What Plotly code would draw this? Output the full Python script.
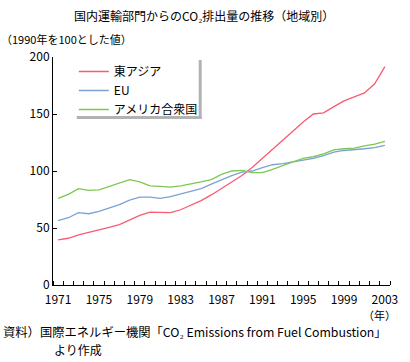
import plotly.graph_objects as go

years = list(range(1971, 2004))
east_asia = [39.5, 41, 44, 46, 48, 50.5, 53, 57, 61, 64, 63.5, 63.5, 66, 70, 74, 79, 84.5, 90, 96, 103,
             111, 119, 127, 135, 143, 150, 151, 156.5, 161.5, 165, 168.5, 176.5, 191.5]
eu = [56.5, 59, 63.5, 62.5, 64.5, 67.5, 70.5, 74.5, 77, 77, 76, 77.5, 80, 82, 84.5, 88.5, 92.5, 96, 99, 100,
      103, 105.5, 106.5, 108, 109.5, 111, 113.5, 116.5, 118, 118.5, 119.5, 120.5, 122.5]
usa = [76, 79.5, 84.5, 83, 83.5, 86.5, 89.5, 92.5, 90.5, 87, 86.5, 85.8, 87, 88.5, 90.5, 92.5, 97, 100, 100.5, 98.5,
       98.5, 101.5, 105, 108, 111, 112.5, 115, 118.5, 119.5, 120, 122, 123.5, 126]

series_names = ["東アジア", "EU", "アメリカ合衆国"]
series_values = [east_asia, eu, usa]
colors = ["#FA5A74", "#7BA2D3", "#7CC850"]

x_tick_labels = [str(y) for y in range(1971, 2004, 4)]
y_ticks = [0, 50, 100, 150, 200]

title_text = "国内運輸部門からのCO₂排出量の推移（地域別）"
unit_text = "（1990年を100とした値）"
year_text = "（年）"
note1 = "資料）国際エネルギー機関「CO₂ Emissions from Fuel Combustion」"
note2 = "より作成"

FONT = "Noto Sans CJK JP"

fig = go.Figure()
for name, vals, c in zip(series_names, series_values, colors):
    fig.add_trace(go.Scatter(x=years, y=vals, name=name, mode="lines",
                             line=dict(color=c, width=1.3)))

W, H = 410, 362
L, R, T, B = 53, 17, 57, 77
pw, ph = W - L - R, H - T - B

def px2x(p):
    return (p - L) / pw

def py2y(p):
    return (H - B - p) / ph

fig.update_layout(
    width=W, height=H,
    margin=dict(l=L, r=R, t=T, b=B),
    paper_bgcolor="white", plot_bgcolor="white",
    font=dict(family=FONT, size=12, color="black"),
    showlegend=True,
    legend=dict(x=px2x(74), y=py2y(57), xanchor="left", yanchor="top",
                bgcolor="rgba(0,0,0,0)", borderwidth=0, font=dict(size=12),
                tracegroupgap=0),
    xaxis=dict(range=[1970.5, 2003.5], tickmode="array",
               tickvals=[int(t) for t in x_tick_labels], ticktext=x_tick_labels,
               ticks="", showgrid=False, zeroline=False,
               showline=True, linecolor="black", linewidth=1,
               ticklabelstandoff=4,
               minor=dict(tickmode="linear", tick0=1970.5, dtick=1, ticks="inside",
                          ticklen=4, tickcolor="black", tickwidth=1, showgrid=False),
               tickfont=dict(size=12)),
    yaxis=dict(range=[0, 200], tickmode="array", tickvals=y_ticks,
               ticks="inside", ticklen=4, tickcolor="black",
               showgrid=False, zeroline=False,
               showline=True, linecolor="black", linewidth=1,
               tickfont=dict(size=12)),
)

shadow = "#B2B2B2"
fig.add_shape(type="rect", xref="paper", yref="paper",
              x0=px2x(200), x1=px2x(203), y0=py2y(119), y1=py2y(60),
              fillcolor=shadow, line=dict(width=0), layer="above")
fig.add_shape(type="rect", xref="paper", yref="paper",
              x0=px2x(77), x1=px2x(203), y0=py2y(119), y1=py2y(116),
              fillcolor=shadow, line=dict(width=0), layer="above")

def ann(text, xp, yp, xanchor="left", size=12):
    fig.add_annotation(text=text, xref="paper", yref="paper",
                       x=px2x(xp), y=py2y(yp), xanchor=xanchor, yanchor="middle",
                       showarrow=False, font=dict(size=size, family=FONT, color="black"))

ann(title_text, 205, 15, "center")
ann(unit_text, -1, 39, "left", 11)
ann(year_text, 382, 315, "center", 11)
ann(note1, 1, 332, "left", 12.3)
ann(note2, 52, 349, "left")

fig.write_html("out.html",
               config={"displayModeBar": False},
               post_script="document.body.style.margin='0';document.body.style.padding='0';")
